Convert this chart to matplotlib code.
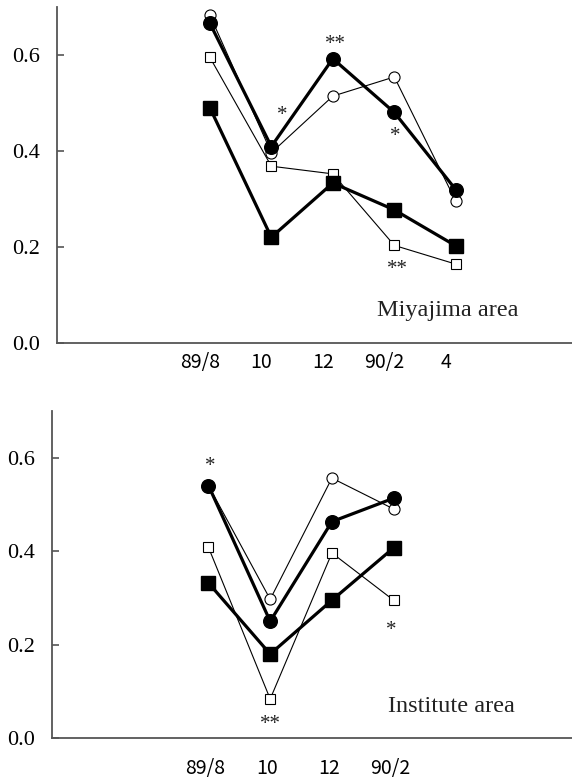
import numpy as np
import matplotlib
matplotlib.use("Agg")
from matplotlib import pyplot as plt
from matplotlib.transforms import ScaledTranslation

# sampling dates, two months apart
dates_miyajima = ["89/8", "10", "12", "90/2", "4"]
dates_institute = ["89/8", "10", "12", "90/2"]

# Miyajima area
miy_open_circle = [0.684, 0.397, 0.515, 0.555, 0.296]
miy_filled_circle = [0.667, 0.410, 0.593, 0.481, 0.320]
miy_open_square = [0.596, 0.369, 0.353, 0.204, 0.165]
miy_filled_square = [0.491, 0.221, 0.334, 0.278, 0.203]

# Institute area
ins_open_circle = [0.540, 0.297, 0.556, 0.490]
ins_filled_circle = [0.540, 0.250, 0.463, 0.513]
ins_open_square = [0.408, 0.084, 0.396, 0.295]
ins_filled_square = [0.332, 0.180, 0.295, 0.407]

# significance marks: (series, date index, text, dx pt, dy pt)
miy_marks = [("fc", 1, "*", 8, 22), ("fc", 2, "**", 2, 10),
             ("fc", 3, "*", 1, -17), ("os", 3, "**", 2, -17)]
ins_marks = [("fc", 0, "*", 1, 14), ("os", 1, "**", 0, -18.5),
             ("os", 3, "*", -2, -22)]

serif = ["Liberation Serif", "DejaVu Serif"]
sans = ["Noto Sans CJK JP", "DejaVu Sans"]
axcol = "#555555"


def draw_panel(ax, dates, oc, fc, osq, fsq, marks, title, title_xy, xlim, label_dx, label_pad):
    x = np.arange(len(dates))
    ax.plot(x, oc, "-o", color="black", lw=0.8, ms=8, mfc="white", mec="black", mew=0.8, zorder=3)
    ax.plot(x, osq, "-s", color="black", lw=0.8, ms=7, mfc="white", mec="black", mew=0.8, zorder=3)
    ax.plot(x, fsq, "-s", color="black", lw=2.3, ms=10, zorder=4)
    ax.plot(x, fc, "-o", color="black", lw=2.3, ms=9.8, zorder=5)

    series = {"oc": oc, "fc": fc, "os": osq, "fs": fsq}
    for key, i, txt, dx, dy in marks:
        ax.annotate(txt, xy=(x[i], series[key][i]), xytext=(dx, dy),
                    textcoords="offset points", ha="center", va="center",
                    fontsize=15, family=serif, color="#222222")

    ax.set_xlim(*xlim)
    ax.set_ylim(0, 0.70)
    ax.set_yticks([0.0, 0.2, 0.4, 0.6])
    ax.set_yticklabels(["0.0", "0.2", "0.4", "0.6"], family=serif, fontsize=16)
    ax.set_xticks(x)
    ax.set_xticklabels(dates, family=sans, fontsize=14)
    ax.tick_params(axis="y", direction="in", length=5, width=1.2, color=axcol, pad=12)
    ax.tick_params(axis="x", length=0, pad=label_pad)
    offset = ScaledTranslation(label_dx / 100, 0, ax.figure.dpi_scale_trans)
    for lab in ax.get_xticklabels():
        lab.set_transform(lab.get_transform() + offset)

    for side in ["top", "right"]:
        ax.spines[side].set_visible(False)
    for side in ["left", "bottom"]:
        ax.spines[side].set_color(axcol)
        ax.spines[side].set_linewidth(1.3)

    ax.text(*title_xy, title, ha="center", va="center", family=serif, fontsize=17.5, color="#222222")


fig = plt.figure(figsize=(5.72, 7.78), dpi=100)
ax1 = fig.add_axes([0.0991, 0.5587, 0.901, 0.4319])
ax2 = fig.add_axes([0.0904, 0.0510, 0.9096, 0.4211])

draw_panel(ax1, dates_miyajima, miy_open_circle, miy_filled_circle, miy_open_square,
           miy_filled_square, miy_marks, "Miyajima area", (3.865, 0.068),
           (-2.49, 5.89), -10, 6)
draw_panel(ax2, dates_institute, ins_open_circle, ins_filled_circle, ins_open_square,
           ins_filled_square, ins_marks, "Institute area", (3.93, 0.068),
           (-2.54, 5.89), -3, 14)

fig.savefig("out.png", dpi=100)
